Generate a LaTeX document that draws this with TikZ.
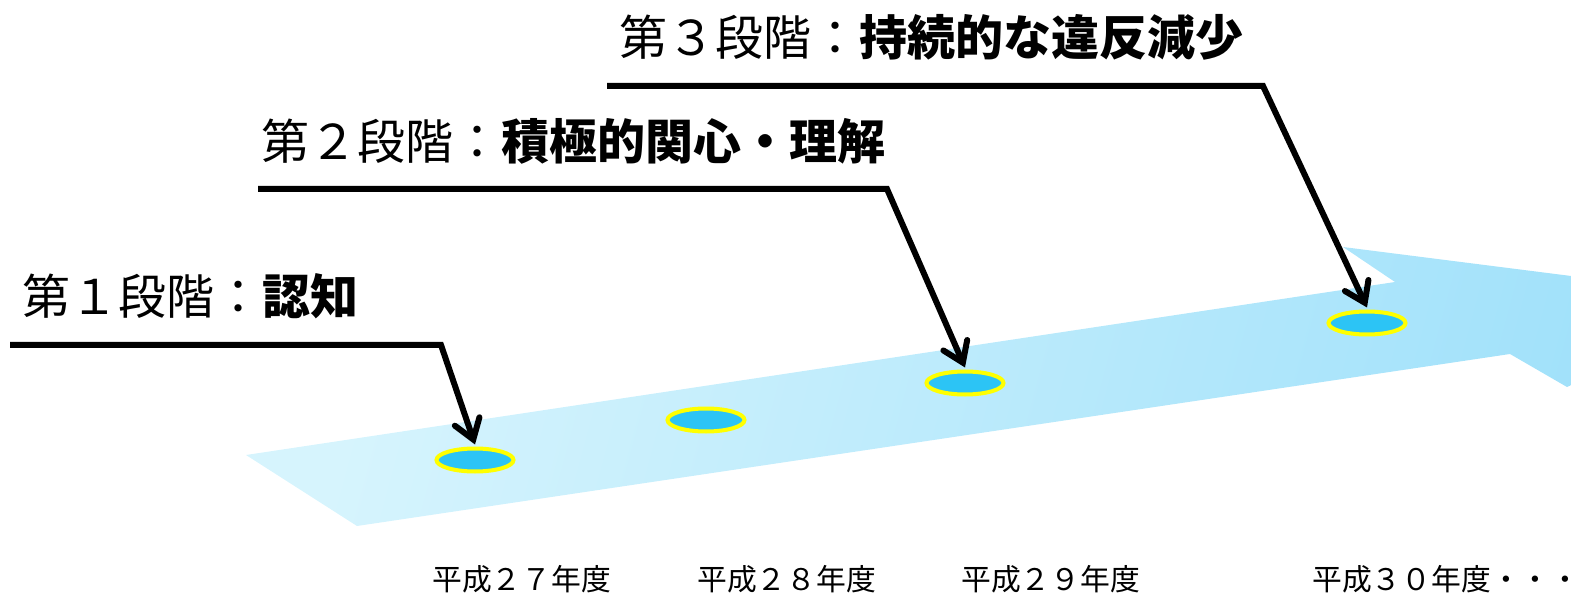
\documentclass[tikz,border=0pt]{standalone}
\usepackage{fontspec}
\newfontfamily\jp{Noto Sans CJK JP}
\usetikzlibrary{arrows.meta,shapes.geometric}
\definecolor{arrowL}{RGB}{214,244,253}
\definecolor{arrowR}{RGB}{158,224,250}
\definecolor{dotfill}{RGB}{44,196,245}
\definecolor{dotring}{RGB}{255,255,0}
\tikzset{
  dot/.style={ellipse, draw=dotring, line width=4pt, fill=dotfill, minimum width=77pt, minimum height=23pt, inner sep=0pt},
  callout/.style={line width=6pt, line join=miter, -{Straight Barb[length=19pt,width=26pt,line cap=round]}},
  stage/.style={anchor=base west, inner sep=0pt, font=\jp\fontsize{48pt}{52pt}\selectfont},
  year/.style={anchor=base west, inner sep=0pt, font=\jp\fontsize{29.8pt}{33pt}\selectfont}
}
\begin{document}
\begin{tikzpicture}[x=1pt,y=-1pt]
\useasboundingbox (0,0) rectangle (1571,593);
\clip (0,0) rectangle (1571,593);
% big arrow
\shade[left color=arrowL, right color=arrowR, shading angle=75]
  (246,455) -- (1395,282) -- (1343,247) -- (1760,300) -- (1567,387) -- (1510,354) -- (357,526) -- cycle;
% dots
\node[dot] (e1) at (475,460) {};
\node[dot] (e2) at (706,420) {};
\node[dot] (e3) at (965,383) {};
\node[dot] (e4) at (1367,323) {};
% callout lines
\coordinate (s1) at (10,345);
\coordinate (c1) at (441,345);
\coordinate (s2) at (258,189);
\coordinate (c2) at (887,189);
\coordinate (s3) at (607,86);
\coordinate (c3) at (1263,86);
\draw[callout] (s1) -- (c1) -- ([yshift=2pt]e1.north);
\draw[callout] (s2) -- (c2) -- ([yshift=2pt]e3.north);
\draw[callout] (s3) -- (c3) -- ([yshift=2pt]e4.north);
% stage labels
\node[stage] (t1) at (22,315) {第１段階：\textbf{認知}};
\node[stage] (t2) at (261,160) {第２段階：\textbf{積極的関心・理解}};
\node[stage] (t3) at (619,56) {第３段階：\textbf{持続的な違反減少}};
% year labels
\node[year] (y1) at (432,590) {平成２７年度};
\node[year] (y2) at (697,590) {平成２８年度};
\node[year] (y3) at (961,590) {平成２９年度};
\node[year] (y4) at (1312,590) {平成３０年度・・・};
\end{tikzpicture}
\end{document}
